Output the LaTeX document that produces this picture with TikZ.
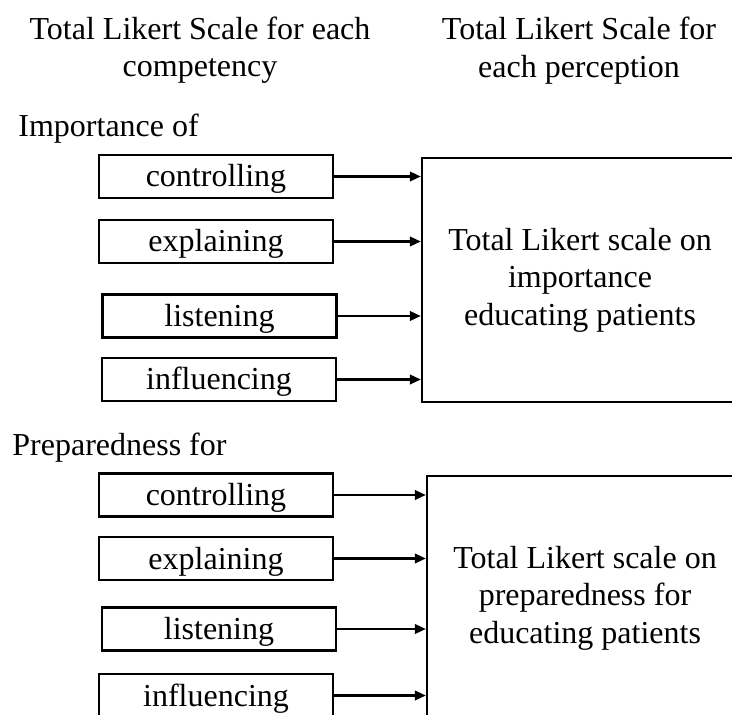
\documentclass[tikz,border=0pt]{standalone}
\usepackage{fontspec}
\setmainfont{Liberation Serif}
\usetikzlibrary{arrows.meta}
\begin{document}
\begin{tikzpicture}[x=0.5pt,y=-0.5pt,
  every node/.style={font=\fontsize{16}{18.7}\selectfont},
  compbox/.style={draw, line width=1.2pt, minimum width=117pt, minimum height=21.5pt,
    inner sep=0pt, text height=11.5pt, text depth=1pt},
  totalbox/.style={draw, line width=1.2pt, minimum width=158pt, minimum height=122pt,
    inner sep=0pt, align=center},
  heading/.style={align=center, inner sep=0pt},
  grouplabel/.style={anchor=base west, inner sep=0pt},
  conn/.style={line width=1.1pt, -{Triangle[length=5.5pt,width=4.8pt]}}]
\useasboundingbox (0,0) rectangle (732,715);
\clip (0,0) rectangle (732,715);

% column headings
\node[heading] (hcomp) at (200,50) {Total Likert Scale for each\\competency};
\node[heading] (hperc) at (579,50.5) {Total Likert Scale for\\each perception};

% importance block
\node[grouplabel] (limp) at (18,137) {Importance of};
\node[compbox] (c1) at (216,176.5) {controlling};
\node[compbox] (e1) at (216,241.5) {explaining};
\node[compbox] (l1) at (219.5,316) {listening};
\node[compbox] (i1) at (219,379.5) {influencing};
\node[totalbox] (big1) at (580,280) {Total Likert scale on\\importance\\educating patients};

% preparedness block
\node[grouplabel] (lprep) at (12,455) {Preparedness for};
\node[compbox] (c2) at (216,495) {controlling};
\node[compbox] (e2) at (216,558.5) {explaining};
\node[compbox] (l2) at (219,629) {listening};
\node[compbox] (i2) at (216,695.5) {influencing};
\node[totalbox] (big2) at (585,598) {Total Likert scale on\\preparedness for\\educating patients};

% connectors
\foreach \s in {c1,e1,l1,i1}
  \draw[conn] (\s.east) -- (\s.east -| big1.west);
\foreach \s in {c2,e2,l2,i2}
  \draw[conn] (\s.east) -- (\s.east -| big2.west);
\end{tikzpicture}
\end{document}
